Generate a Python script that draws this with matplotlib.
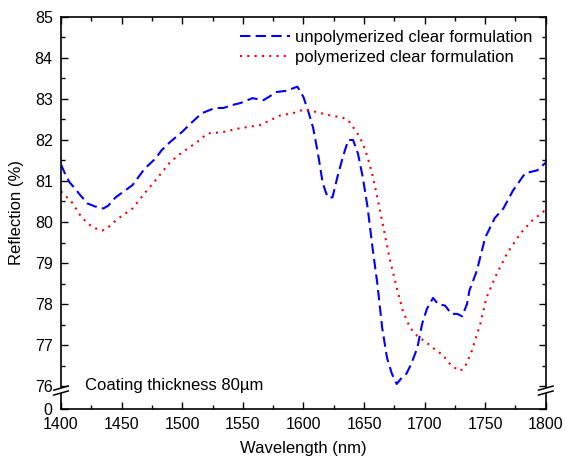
import matplotlib
matplotlib.use('Agg')
import matplotlib.pyplot as plt
from matplotlib.ticker import MultipleLocator, FixedLocator
from matplotlib.patches import Polygon

plt.rcParams['font.family'] = ['Liberation Sans', 'DejaVu Sans']
plt.rcParams['font.size'] = 12

# unpolymerized clear formulation (blue, dashed)
wl_unpoly = [1400, 1403, 1407, 1412, 1416, 1422, 1428, 1435, 1439, 1445, 1453, 1459,
             1464, 1469, 1478, 1483, 1490, 1500, 1508, 1516, 1527, 1534, 1541, 1548,
             1558, 1567, 1578, 1586, 1595, 1600, 1604, 1608, 1612, 1616, 1620, 1624,
             1628, 1633, 1637, 1641, 1645, 1649, 1653, 1657, 1661, 1665, 1669, 1673,
             1677, 1681, 1685, 1689, 1694, 1698, 1702, 1707, 1711, 1717, 1722, 1727,
             1731, 1735, 1737, 1743, 1750, 1758, 1765, 1773, 1783, 1793, 1800]
r_unpoly = [81.40, 81.20, 80.97, 80.80, 80.65, 80.45, 80.38, 80.33, 80.40, 80.60, 80.77, 80.90,
            81.10, 81.30, 81.55, 81.75, 81.95, 82.20, 82.43, 82.65, 82.78, 82.78, 82.85, 82.90,
            83.02, 82.97, 83.17, 83.20, 83.30, 83.05, 82.70, 82.30, 81.67, 80.94, 80.60, 80.60,
            81.09, 81.63, 82.00, 82.00, 81.67, 81.09, 80.35, 79.38, 78.50, 77.42, 76.69, 76.30,
            76.05, 76.20, 76.30, 76.54, 76.93, 77.52, 77.89, 78.15, 78.00, 77.96, 77.76, 77.76,
            77.70, 78.00, 78.33, 78.80, 79.62, 80.10, 80.33, 80.77, 81.19, 81.26, 81.45]

# polymerized clear formulation (red, dotted)
wl_poly = [1400, 1409, 1417, 1426, 1434, 1439, 1447, 1459, 1469, 1480, 1490, 1500,
           1511, 1521, 1533, 1548, 1564, 1581, 1591, 1601, 1611, 1622, 1632, 1637,
           1644, 1649, 1653, 1657, 1661, 1666, 1671, 1677, 1682, 1688, 1694, 1702,
           1710, 1715, 1722, 1729, 1733, 1739, 1746, 1751, 1758, 1768, 1779, 1789, 1800]
r_poly = [80.75, 80.48, 80.11, 79.87, 79.79, 79.87, 80.08, 80.33, 80.70, 81.09, 81.46, 81.70,
          81.92, 82.16, 82.19, 82.29, 82.36, 82.60, 82.65, 82.75, 82.68, 82.60, 82.55, 82.48,
          82.19, 81.92, 81.58, 81.14, 80.60, 79.87, 79.13, 78.40, 77.84, 77.42, 77.22, 77.05,
          76.86, 76.76, 76.50, 76.37, 76.44, 76.86, 77.52, 78.15, 78.64, 79.23, 79.72, 80.04, 80.30]

y_ticks = [76, 77, 78, 79, 80, 81, 82, 83, 84, 85]
y_bottom = 75.44  # shown as "0" below the axis break

fig = plt.figure(figsize=(5.65, 4.62), dpi=100)
ax = fig.add_axes([0.108, 0.1147, 0.858, 0.8486])

ax.plot(wl_unpoly, r_unpoly, color='#0000ff', lw=1.5, dashes=(5, 2.5),
        label='unpolymerized clear formulation')
ax.plot(wl_poly, r_poly, color='#ff0000', lw=1.5, dashes=(1, 2.5),
        label='polymerized clear formulation')

ax.set_xlim(1400, 1800)
ax.set_ylim(y_bottom, 85)
ax.xaxis.set_major_locator(MultipleLocator(50))
ax.xaxis.set_minor_locator(MultipleLocator(25))
ax.yaxis.set_major_locator(FixedLocator([y_bottom] + y_ticks))
ax.set_yticklabels(['0'] + [str(t) for t in y_ticks])
ax.yaxis.set_minor_locator(FixedLocator([t + 0.5 for t in y_ticks[:-1]]))
ax.tick_params(which='both', direction='in', top=True, right=True, width=1,
               labelsize=11.5)
ax.tick_params(which='major', length=5, pad=6)
ax.tick_params(which='minor', length=3)
for s in ax.spines.values():
    s.set_linewidth(1.2)

ax.set_xlabel('Wavelength (nm)', labelpad=6)
ax.set_ylabel('Reflection (%)', labelpad=8)

ax.text(1420, 76.02, 'Coating thickness 80µm', ha='left', va='center')

ax.legend(loc='upper left', bbox_to_anchor=(0.341, 1.0), frameon=False,
          handlelength=3, handletextpad=0.3, labelspacing=0.3, borderpad=0.3)

# axis break marks on both sides
for xc in (1400, 1800):
    gap = Polygon([(xc - 6, 75.78), (xc + 6, 75.88), (xc + 6, 76.0), (xc - 6, 75.9)],
                  closed=True, facecolor='white', edgecolor='none', zorder=5, clip_on=False)
    ax.add_patch(gap)
    for y0 in (75.78, 75.9):
        ax.plot([xc - 6, xc + 6], [y0, y0 + 0.1], color='black', lw=1.1,
                clip_on=False, zorder=6)

fig.savefig('out.png', dpi=100)
